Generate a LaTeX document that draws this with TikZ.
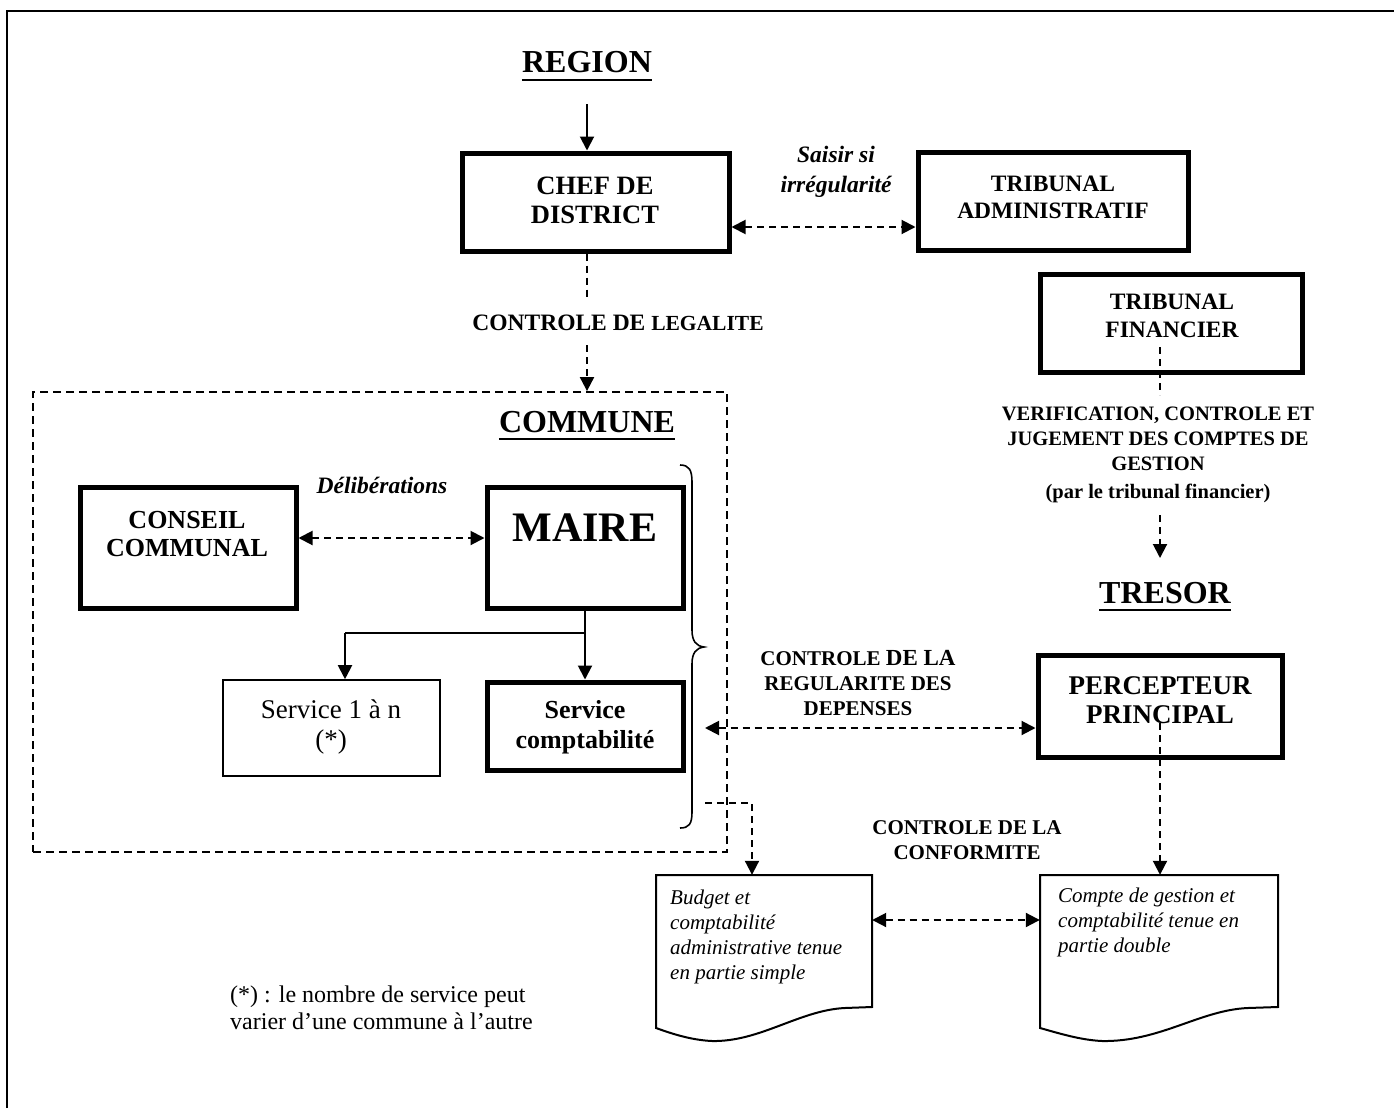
\documentclass[tikz,border=0pt]{standalone}
\usepackage{fontspec}
\setmainfont{Liberation Serif}
\usetikzlibrary{arrows.meta,calc,fit}
\newcommand\fsz[2]{\fontsize{#1}{#2}\selectfont}
\begin{document}
\begin{tikzpicture}[x=1pt,y=-1pt,
  hbox/.style={draw,line width=5pt,inner sep=0pt},
  lbox/.style={draw,line width=1.6pt,inner sep=0pt},
  ghost/.style={inner sep=0pt},
  txt/.style={inner sep=0pt,align=center},
  dsh/.style={line width=2pt,dash pattern=on 7pt off 5pt},
  sld/.style={line width=2pt},
  tip/.style={-{Triangle[length=14pt,width=14pt]}},
  tips/.style={{Triangle[length=14pt,width=14pt]}-{Triangle[length=14pt,width=14pt]}},
  ttl/.style={inner sep=0pt,font=\fsz{32}{38}\bfseries,anchor=base},
  uline/.style={line width=2.5pt}
]
\useasboundingbox (0,0) rectangle (1394,1108);
\draw[line width=2pt] (7,1108) -- (7,11) -- (1394,11);

% REGION and chef de district
\node[ttl] (region) at (587,73) {REGION};
\draw[uline] ($(region.base west)+(0,7)$) -- ($(region.base east)+(0,7)$);
\node[hbox,fit={(462,153) (729,251)}] (chef) {};
\node[txt,font=\fsz{26.5}{29}\bfseries] (cheft) at (595,200) {CHEF DE\\DISTRICT};
\draw[sld,tip] ($(region.base)+(0,31)$) -- (region.base |- chef.north);

\node[hbox,fit={(918,152) (1188,250)}] (ta) {};
\node[txt,font=\fsz{23.5}{27}\bfseries] (tat) at (1053,197) {TRIBUNAL\\ADMINISTRATIF};
\node[txt,font=\fsz{23.5}{30}\bfseries\itshape] (saisir) at (836,172) {Saisir si\\irrégularité};
\draw[dsh,tips] (chef.east |- 0,227) -- (ta.west |- 0,227);

% controle de legalite
\node[txt,font=\bfseries] (legal) at (618,323) {\fsz{23.5}{27}CONTROLE DE {\fsz{21.5}{27}LEGALITE}};
\coordinate (la) at (587,300);
\draw[dsh] (region.base |- chef.south) -- (la);

% commune
\node[draw,line width=1.8pt,dash pattern=on 8pt off 5pt,inner sep=0pt,fit={(33,392) (727,852)}] (commune) {};
\coordinate (lb) at (587,345);
\draw[dsh,tip] (lb) -- (lb |- commune.north);
\node[ttl] (communet) at (587,432) {COMMUNE};
\draw[uline] ($(communet.base west)+(0,7)$) -- ($(communet.base east)+(0,7)$);

\node[hbox,fit={(80,487) (296,608)}] (conseil) {};
\node[txt,font=\fsz{26}{28}\bfseries] (conseilt) at (187,534) {CONSEIL\\COMMUNAL};
\node[hbox,fit={(487,487) (683,608)}] (maire) {};
\node[txt,font=\fsz{42}{46}\bfseries] (mairet) at (585,528) {MAIRE};
\node[txt,font=\fsz{23.5}{28}\bfseries\itshape] (delib) at (382,485) {Délibérations};
\draw[dsh,tips] (conseil.east |- 0,538) -- (maire.west |- 0,538);

\node[lbox,fit={(223,680) (440,776)}] (serv1) {};
\node[txt,font=\fsz{27}{30}] (serv1t) at (331,727) {Service 1 à n\\(*)};
\node[hbox,fit={(487,682) (683,770)}] (servc) {};
\node[txt,font=\fsz{26}{30}\bfseries] (servct) at (585,727) {Service\\comptabilité};
\coordinate (split) at (585,633);
\coordinate (bend) at (345,633);
\draw[sld] (maire.south -| split) -- (split) -- (bend);
\draw[sld,tip] (bend) -- (bend |- serv1.north);
\draw[sld,tip] (split) -- (split |- servc.north);

% brace
\draw[line width=1.6pt] (680,465) .. controls (689,465) and (692,470) .. (692,482) -- (692,630)
  .. controls (692,641) and (696,646) .. (704,647) .. controls (696,648) and (692,653) .. (692,664)
  -- (692,812) .. controls (692,824) and (689,828) .. (680,828);

% tresor side
\node[hbox,fit={(1040,274) (1302,372)}] (tf) {};
\node[txt,font=\fsz{23.5}{28}\bfseries] (tft) at (1172,316) {TRIBUNAL\\FINANCIER};
\coordinate (tfa) at (1160,347);
\coordinate (tfb) at (1160,395);
\draw[dsh] (tfa) -- (tfb);
\node[txt,font=\fsz{20.5}{25}\bfseries] (verif) at (1158,455) {VERIFICATION, CONTROLE ET\\JUGEMENT DES COMPTES DE\\GESTION\\[3pt](par le tribunal financier)};
\node[ttl] (tresor) at (1165,603) {TRESOR};
\draw[uline] ($(tresor.base west)+(0,7)$) -- ($(tresor.base east)+(0,7)$);
\coordinate (tfc) at (1160,515);
\draw[dsh,tip] (tfc) -- ($(tresor.base)+(-5,-45)$);

\node[hbox,fit={(1038,655) (1282,757)}] (perc) {};
\node[txt,font=\fsz{27}{29}\bfseries] (perct) at (1160,700) {PERCEPTEUR\\PRINCIPAL};
\node[txt,font=\fsz{21}{25}\bfseries] (regul) at (858,683) {CONTROLE {\fsz{23}{25}DE LA}\\REGULARITE DES\\DEPENSES};
\coordinate (regL) at (705,728);
\draw[dsh,tips] (regL) -- (perc.west |- regL);

% documents
\node[ghost,fit={(656,875) (872,1007)}] (doc1) {};
\draw[line width=2pt] (656,875) -- (872,875) -- (872,1007) -- (845,1008)
  .. controls (800,1010) and (760,1042) .. (712,1041) .. controls (690,1040) and (670,1033) .. (656,1028) -- cycle;
\node[ghost,fit={(1040,875) (1278,1007)}] (doc2) {};
\draw[line width=2pt] (1040,875) -- (1278,875) -- (1278,1007) -- (1248,1008)
  .. controls (1200,1010) and (1160,1042) .. (1102,1041) .. controls (1080,1040) and (1058,1033) .. (1040,1028) -- cycle;
\node[txt,align=left,anchor=north west,font=\fsz{21}{25}\itshape] (doc1t) at (670,890) {Budget et\\comptabilité\\administrative tenue\\en partie simple};
\node[txt,align=left,anchor=north west,font=\fsz{21}{25}\itshape] (doc2t) at (1058,888) {Compte de gestion et\\comptabilité tenue en\\partie double};

\coordinate (pa) at (1160,723);
\draw[dsh,tip] (pa) -- (pa |- doc2.north);
\coordinate (bA) at (705,803);
\coordinate (bB) at (752,803);
\draw[dsh,tip] (bA) -- (bB) -- (bB |- doc1.north);
\draw[dsh,tips] (doc1.east |- 0,920) -- (doc2.west |- 0,920);
\node[txt,font=\fsz{21}{25}\bfseries] (conf) at (967,840) {CONTROLE DE LA\\CONFORMITE};

\node[txt,align=left,anchor=north west,font=\fsz{24}{27}] (note) at (230,986) {(*) : le nombre de service peut\\varier d’une commune à l’autre};
\end{tikzpicture}
\end{document}
